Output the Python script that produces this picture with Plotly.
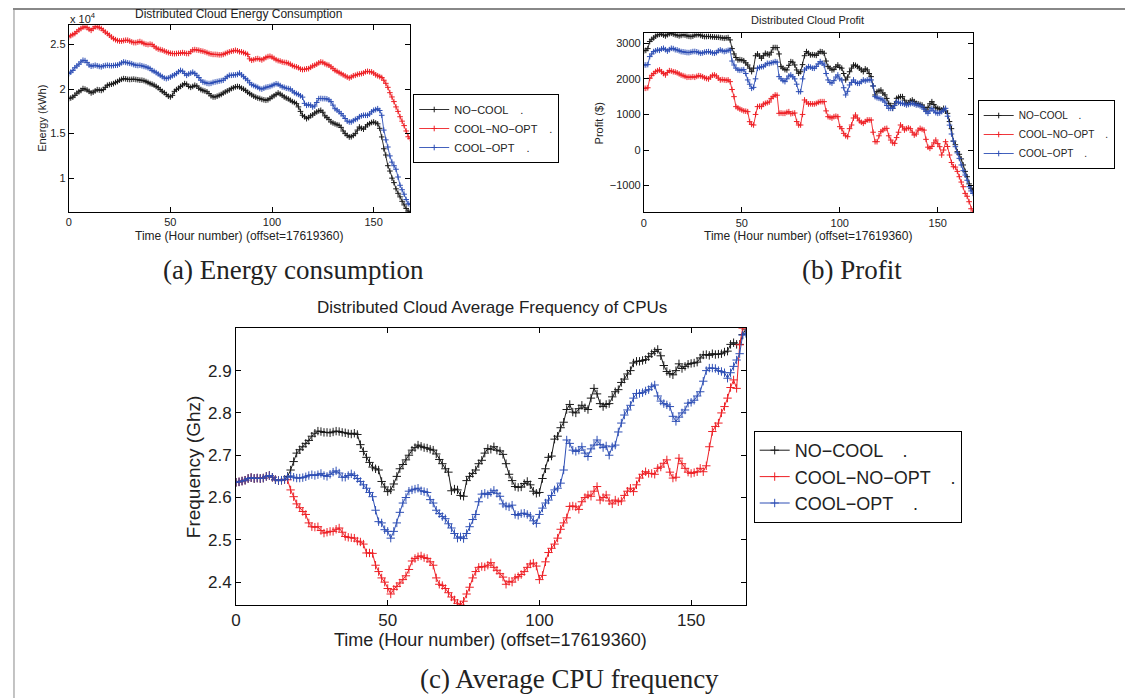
import plotly.graph_objects as go

hours = list(range(169))
series_names = ["NO−COOL    .", "COOL−NO−OPT    .", "COOL−OPT    ."]

energy_nocool = [1.893,1.900,1.910,1.930,1.955,1.970,1.985,2.006,2.000,1.990,1.975,1.957,1.965,1.980,1.994,1.990,1.985,1.995,2.020,2.043,
2.050,2.055,2.062,2.075,2.085,2.100,2.110,2.118,2.115,2.110,2.108,2.110,2.112,2.108,2.105,2.100,2.100,2.095,2.085,2.075,
2.062,2.055,2.045,2.030,2.015,1.995,1.975,1.960,1.940,1.920,1.912,1.930,1.975,1.995,2.010,2.030,2.045,2.062,2.055,2.030,
2.020,2.030,2.043,2.035,2.010,1.995,1.985,1.978,1.970,1.950,1.925,1.912,1.912,1.920,1.930,1.940,1.955,1.968,1.980,1.990,
2.006,2.015,2.025,2.030,2.025,2.010,2.000,1.985,1.965,1.950,1.935,1.920,1.910,1.900,1.895,1.885,1.880,1.875,1.880,1.895,
1.912,1.925,1.940,1.957,1.945,1.930,1.912,1.900,1.890,1.875,1.860,1.850,1.837,1.800,1.750,1.706,1.690,1.668,1.680,1.700,
1.710,1.730,1.744,1.755,1.762,1.740,1.700,1.680,1.660,1.631,1.620,1.610,1.600,1.594,1.570,1.530,1.500,1.480,1.462,1.465,
1.480,1.500,1.540,1.575,1.560,1.550,1.575,1.600,1.612,1.625,1.631,1.620,1.610,1.560,1.463,1.330,1.260,1.140,1.080,1.000,
0.950,0.880,0.830,0.790,0.740,0.700,0.660,0.630,0.620]

energy_coolnoopt = [2.586,2.600,2.612,2.624,2.645,2.665,2.680,2.695,2.700,2.690,2.672,2.660,2.680,2.700,2.700,2.690,2.680,2.660,2.640,2.624,
2.605,2.585,2.567,2.555,2.545,2.540,2.540,2.545,2.549,2.549,2.540,2.530,2.522,2.522,2.528,2.534,2.525,2.512,2.504,2.500,
2.505,2.500,2.480,2.462,2.450,2.444,2.438,2.428,2.418,2.410,2.403,2.400,2.398,2.400,2.403,2.405,2.410,2.405,2.400,2.400,
2.420,2.440,2.444,2.440,2.436,2.430,2.425,2.418,2.410,2.400,2.395,2.390,2.390,2.388,2.385,2.385,2.390,2.400,2.410,2.418,
2.425,2.430,2.436,2.430,2.420,2.418,2.410,2.400,2.390,2.340,2.324,2.330,2.340,2.343,2.335,2.328,2.340,2.355,2.365,2.369,
2.360,2.345,2.330,2.320,2.315,2.305,2.300,2.298,2.290,2.280,2.265,2.255,2.250,2.240,2.225,2.219,2.222,2.228,2.230,2.245,
2.260,2.268,2.280,2.295,2.305,2.300,2.285,2.275,2.268,2.250,2.230,2.210,2.200,2.185,2.174,2.160,2.148,2.135,2.125,2.135,
2.150,2.155,2.165,2.170,2.174,2.180,2.195,2.200,2.195,2.193,2.180,2.160,2.150,2.140,2.130,2.100,2.065,2.020,1.960,1.912,
1.860,1.800,1.750,1.690,1.640,1.590,1.530,1.465,1.444]

energy_coolopt = [2.174,2.190,2.210,2.240,2.260,2.280,2.305,2.324,2.320,2.300,2.270,2.257,2.262,2.268,2.262,2.255,2.250,2.260,2.265,2.268,
2.265,2.262,2.265,2.268,2.270,2.280,2.295,2.305,2.300,2.295,2.290,2.285,2.275,2.268,2.265,2.268,2.262,2.255,2.250,2.240,
2.230,2.210,2.200,2.185,2.170,2.155,2.140,2.125,2.118,2.125,2.135,2.150,2.160,2.175,2.195,2.210,2.200,2.175,2.155,2.170,
2.180,2.190,2.175,2.155,2.130,2.100,2.080,2.075,2.065,2.062,2.065,2.075,2.080,2.085,2.090,2.095,2.100,2.120,2.140,2.155,
2.155,2.158,2.160,2.165,2.180,2.160,2.140,2.118,2.100,2.070,2.050,2.040,2.030,2.020,2.006,2.000,2.010,2.020,2.025,2.030,
2.040,2.050,2.060,2.055,2.040,2.025,2.020,2.010,2.006,2.000,1.980,1.960,1.950,1.940,1.925,1.910,1.840,1.818,1.825,1.820,
1.800,1.810,1.850,1.893,1.895,1.893,1.893,1.890,1.880,1.860,1.820,1.780,1.765,1.745,1.725,1.700,1.670,1.640,1.631,1.631,
1.645,1.660,1.668,1.690,1.700,1.706,1.706,1.706,1.720,1.745,1.762,1.770,1.780,1.760,1.706,1.540,1.430,1.350,1.250,1.180,
1.140,1.100,1.013,0.920,0.870,0.820,0.760,0.713,0.706]

profit_nocool = [2790,2800,2850,3050,3110,3150,3200,3235,3250,3262,3230,3206,3240,3270,3281,3260,3240,3225,3206,3220,
3240,3230,3210,3195,3187,3200,3230,3240,3245,3220,3200,3187,3190,3195,3187,3180,3175,3170,3169,3160,
3150,3140,3150,3160,3094,2850,2700,2600,2531,2540,2530,2510,2450,2390,2300,2203,2300,2650,2700,2640,
2578,2650,2719,2700,2670,2750,2878,2880,2878,2700,2344,2300,2260,2250,2380,2484,2470,2390,2250,2156,
2200,2400,2650,2766,2720,2672,2680,2672,2660,2720,2766,2760,2720,2500,2344,2300,2250,2260,2340,2390,
2320,2300,2150,1969,2050,2200,2300,2390,2380,2345,2300,2250,2203,2280,2250,2150,2062,1800,1547,1640,
1660,1687,1600,1550,1450,1312,1250,1172,1300,1453,1480,1500,1500,1400,1312,1330,1380,1406,1360,1312,
1300,1280,1265,1200,1125,1200,1300,1359,1280,1200,1172,1150,1125,1172,1100,1031,800,600,250,150,
-47,-120,-250,-420,-600,-750,-950,-1078,-1125]

profit_coolnoopt = [1734,1734,1750,2015,2100,2150,2203,2230,2250,2200,2150,2109,2180,2231,2220,2200,2190,2170,2140,2109,
2090,2070,2044,2050,2044,2060,2044,2070,2090,2080,2060,2030,2010,1997,2050,2100,2109,2080,2020,1969,
1980,1969,1960,1969,1922,1700,1500,1219,1180,1150,1125,1100,1090,1078,797,720,703,1000,1219,1230,
1219,1290,1312,1330,1350,1450,1500,1547,1540,1031,1040,1031,1031,1060,1078,1020,1031,1040,800,703,
703,1000,1406,1350,1294,1300,1294,1294,1310,1340,1359,1359,1359,1100,937,920,900,937,950,937,
656,600,469,400,375,600,703,900,984,900,820,780,750,800,844,844,844,500,234,234,
400,516,560,600,609,400,281,200,187,350,500,703,650,562,600,620,600,500,420,450,
560,609,580,560,300,80,47,100,200,281,180,94,-140,0,234,100,-140,-350,-469,-480,
-600,-750,-900,-1031,-1219,-1300,-1453,-1650,-1750]

profit_coolopt = [2390,2390,2400,2625,2700,2766,2790,2812,2800,2840,2859,2820,2780,2820,2859,2850,2820,2812,2790,2766,
2760,2750,2740,2737,2750,2766,2770,2760,2740,2719,2730,2750,2760,2766,2750,2730,2719,2740,2790,2812,
2790,2766,2780,2800,2812,2500,2390,2300,2250,2240,2250,2260,2150,1969,1850,1734,1760,2000,2297,2320,
2340,2344,2390,2437,2430,2450,2460,2484,2470,2062,2000,1950,1922,2000,2080,2109,2060,2000,1850,1640,
1640,2000,2250,2300,2344,2330,2300,2297,2350,2420,2484,2440,2390,2150,1969,1900,1880,1950,2050,2109,
2000,1969,1750,1547,1650,1828,1900,1969,1900,1875,1875,1920,1969,1940,1969,1969,1969,1800,1500,1470,
1453,1440,1406,1350,1250,1172,1172,1172,1250,1359,1340,1312,1312,1290,1265,1280,1300,1312,1290,1265,
1265,1240,1219,1150,1080,1031,1100,1172,1100,1050,1031,1040,1080,1120,1172,950,700,450,250,94,
-80,-234,-420,-580,-703,-850,-1031,-1150,-1219]

freq_nocool = [2.636,2.637,2.639,2.641,2.645,2.647,2.645,2.646,2.645,2.646,2.650,2.652,2.648,2.642,2.640,2.641,2.643,2.650,2.665,2.685,
2.705,2.713,2.720,2.728,2.735,2.745,2.752,2.757,2.756,2.754,2.754,2.753,2.755,2.757,2.756,2.754,2.753,2.751,2.750,2.752,
2.749,2.725,2.709,2.695,2.683,2.672,2.668,2.665,2.638,2.625,2.614,2.618,2.632,2.650,2.668,2.678,2.689,2.700,2.712,2.718,
2.724,2.721,2.718,2.717,2.714,2.712,2.703,2.690,2.680,2.668,2.660,2.616,2.620,2.618,2.605,2.603,2.640,2.650,2.657,2.665,
2.680,2.688,2.705,2.716,2.714,2.720,2.712,2.710,2.702,2.680,2.655,2.640,2.626,2.624,2.625,2.633,2.638,2.630,2.615,2.610,
2.612,2.645,2.668,2.695,2.698,2.738,2.745,2.765,2.778,2.808,2.820,2.802,2.800,2.810,2.818,2.812,2.808,2.835,2.858,2.845,
2.822,2.815,2.820,2.822,2.838,2.850,2.855,2.872,2.880,2.892,2.900,2.918,2.922,2.922,2.924,2.926,2.933,2.940,2.945,2.950,
2.935,2.912,2.898,2.893,2.890,2.900,2.916,2.905,2.910,2.915,2.917,2.918,2.920,2.930,2.937,2.938,2.936,2.940,2.938,2.939,
2.940,2.944,2.946,2.962,2.966,2.962,2.962,2.985,2.998]

freq_coolnoopt = [2.636,2.637,2.639,2.641,2.645,2.647,2.645,2.646,2.645,2.646,2.650,2.652,2.648,2.642,2.640,2.641,2.643,2.642,2.618,2.602,
2.585,2.576,2.567,2.560,2.540,2.531,2.530,2.531,2.522,2.516,2.518,2.520,2.520,2.525,2.528,2.518,2.508,2.506,2.505,2.504,
2.497,2.495,2.490,2.469,2.469,2.468,2.440,2.425,2.410,2.400,2.385,2.372,2.383,2.390,2.398,2.406,2.415,2.430,2.450,2.456,
2.460,2.462,2.458,2.456,2.448,2.440,2.410,2.395,2.392,2.385,2.375,2.365,2.358,2.350,2.346,2.355,2.372,2.388,2.410,2.425,
2.435,2.437,2.436,2.440,2.446,2.435,2.428,2.420,2.412,2.395,2.402,2.400,2.410,2.413,2.418,2.425,2.435,2.443,2.445,2.438,
2.406,2.416,2.448,2.470,2.480,2.490,2.504,2.525,2.540,2.552,2.579,2.580,2.578,2.572,2.590,2.600,2.606,2.603,2.615,2.626,
2.594,2.600,2.606,2.592,2.585,2.594,2.590,2.592,2.605,2.615,2.622,2.614,2.630,2.646,2.655,2.661,2.657,2.657,2.655,2.669,
2.672,2.681,2.689,2.660,2.646,2.648,2.693,2.680,2.669,2.660,2.657,2.659,2.661,2.669,2.661,2.675,2.720,2.756,2.768,2.776,
2.800,2.815,2.835,2.860,2.878,2.858,2.961,3.000,3.005]

freq_coolopt = [2.636,2.637,2.639,2.641,2.645,2.647,2.645,2.646,2.645,2.646,2.650,2.652,2.648,2.642,2.640,2.641,2.643,2.648,2.651,2.648,
2.646,2.646,2.647,2.649,2.652,2.654,2.652,2.654,2.657,2.652,2.650,2.655,2.660,2.663,2.658,2.648,2.648,2.652,2.656,2.652,
2.645,2.638,2.630,2.622,2.612,2.602,2.570,2.543,2.540,2.524,2.520,2.504,2.520,2.540,2.565,2.587,2.600,2.615,2.618,2.620,
2.622,2.616,2.614,2.612,2.595,2.587,2.570,2.562,2.555,2.550,2.538,2.528,2.515,2.504,2.507,2.503,2.515,2.531,2.548,2.560,
2.590,2.608,2.610,2.607,2.612,2.617,2.610,2.603,2.585,2.580,2.578,2.582,2.560,2.558,2.562,2.563,2.560,2.556,2.545,2.539,
2.560,2.575,2.587,2.594,2.605,2.618,2.622,2.634,2.665,2.736,2.728,2.712,2.709,2.712,2.720,2.705,2.697,2.715,2.724,2.736,
2.725,2.718,2.722,2.700,2.720,2.724,2.755,2.776,2.795,2.807,2.818,2.835,2.846,2.846,2.848,2.852,2.855,2.862,2.866,2.840,
2.828,2.822,2.819,2.815,2.792,2.780,2.790,2.800,2.807,2.823,2.825,2.830,2.840,2.850,2.875,2.900,2.906,2.906,2.905,2.900,
2.898,2.895,2.882,2.895,2.910,2.925,2.940,2.984,2.988]

colors = ["#1a1a1a", "#ee2026", "#2e4fb5"]

# The page body has an 8px margin, so the figure starts at page (8, 8).
OFF = 8
W, H = 1133 - OFF, 698 - OFF
def px(x):
    return (x - OFF) / W
def py(y):
    return 1 - (y - OFF) / H

fig = go.Figure()

panels = [
    ("x", "y", "legend", [energy_nocool, energy_coolnoopt, energy_coolopt], 4, 0.9),
    ("x2", "y2", "legend2", [profit_nocool, profit_coolnoopt, profit_coolopt], 4, 0.9),
    ("x3", "y3", "legend3", [freq_nocool, freq_coolnoopt, freq_coolopt], 6, 1.0),
]
for xa, ya, lg, data, msize, lw in panels:
    for name, vals, col in zip(series_names, data, colors):
        fig.add_trace(go.Scatter(
            x=list(range(len(vals))), y=vals, name=name, xaxis=xa, yaxis=ya, legend=lg,
            mode="lines+markers",
            line=dict(color=col, width=lw),
            marker=dict(symbol="cross-thin", size=msize, line=dict(color=col, width=1)),
        ))

FONT = "Liberation Sans, Arial, Helvetica, sans-serif"
SERIF = "Liberation Serif, Times New Roman, serif"

def axis_style(size):
    return dict(showline=True, linecolor="black", linewidth=1, mirror="allticks",
                ticks="inside", ticklen=5, tickcolor="black", showgrid=False, zeroline=False,
                tickfont=dict(family=FONT, size=size, color="#222"))

fig.update_layout(
    width=W, height=H, margin=dict(l=0, r=0, t=0, b=0),
    paper_bgcolor="white", plot_bgcolor="white",
    font=dict(family=FONT, color="#222"),
    xaxis=dict(domain=[px(64), px(407)], anchor="y", range=[0, 168],
               tickvals=[0, 50, 100, 150], **axis_style(11)),
    yaxis=dict(domain=[py(212), py(25)], anchor="x", range=[0.62, 2.72],
               tickvals=[1, 1.5, 2, 2.5], ticktext=["1", "1.5", "2", "2.5"], **axis_style(11)),
    xaxis2=dict(domain=[px(641.7), px(972.3)], anchor="y2", range=[0, 168],
                tickvals=[0, 50, 100, 150], **axis_style(11)),
    yaxis2=dict(domain=[py(212.3), py(33.3)], anchor="x2", range=[-1750, 3280],
                tickvals=[-1000, 0, 1000, 2000, 3000], **axis_style(11)),
    xaxis3=dict(domain=[px(232), px(744)], anchor="y3", range=[0, 168],
                tickvals=[0, 50, 100, 150], **axis_style(17)),
    yaxis3=dict(domain=[py(605), py(328.3)], anchor="x3", range=[2.346, 3.0],
                tickvals=[2.4, 2.5, 2.6, 2.7, 2.8, 2.9], **axis_style(17)),
    legend=dict(x=px(410), y=py(94), xanchor="left", yanchor="top",
                bordercolor="black", borderwidth=1, bgcolor="white",
                font=dict(family=FONT, size=11, color="#222"), itemwidth=30, tracegroupgap=0),
    legend2=dict(x=px(977), y=py(100), xanchor="left", yanchor="top",
                 bordercolor="black", borderwidth=1, bgcolor="white",
                 font=dict(family=FONT, size=10, color="#222"), itemwidth=30, tracegroupgap=0),
    legend3=dict(x=px(752), y=py(431), xanchor="left", yanchor="top",
                 bordercolor="black", borderwidth=1, bgcolor="white",
                 font=dict(family=FONT, size=18, color="#222"), itemwidth=30, tracegroupgap=0),
)

def ann(text, x, y, size, family=FONT, angle=0, xanchor="center"):
    fig.add_annotation(text=text, x=px(x), y=py(y), xref="paper", yref="paper",
                       showarrow=False, textangle=angle, xanchor=xanchor, yanchor="middle",
                       font=dict(family=family, size=size, color="#222"))

# panel (a)
ann("Distributed Cloud Energy Consumption", 235, 14, 12)
ann("x 10<sup>4</sup>", 63, 18, 11, xanchor="left")
ann("Energy (kWh)", 37, 118, 11, angle=-90)
ann("Time (Hour number) (offset=17619360)", 235, 236, 12)
ann("(a) Energy consumption", 290, 270, 27, family=SERIF)
# panel (b)
ann("Distributed Cloud Profit", 806, 20, 11)
ann("Profit ($)", 597, 123, 11, angle=-90)
ann("Time (Hour number) (offset=17619360)", 807, 236, 12)
ann("(b) Profit", 851, 270, 27, family=SERIF)
# panel (c)
ann("Distributed Cloud Average Frequency of CPUs", 489, 307, 17)
ann("Frequency (Ghz)", 189, 467, 19, angle=-90)
ann("Time (Hour number) (offset=17619360)", 488, 640, 18)
ann("(c) Average CPU frequency", 567, 679, 27, family=SERIF)

# page frame
fig.add_shape(type="line", xref="paper", yref="paper", x0=0, x1=1, y0=py(9), y1=py(9),
              line=dict(color="#888", width=2))
fig.add_shape(type="line", xref="paper", yref="paper", x0=px(9), x1=px(9), y0=0, y1=py(9),
              line=dict(color="#888", width=1))
fig.add_shape(type="line", xref="paper", yref="paper", x0=px(1126), x1=px(1126), y0=0, y1=py(9),
              line=dict(color="#888", width=1))

fig.write_html("out.html")
